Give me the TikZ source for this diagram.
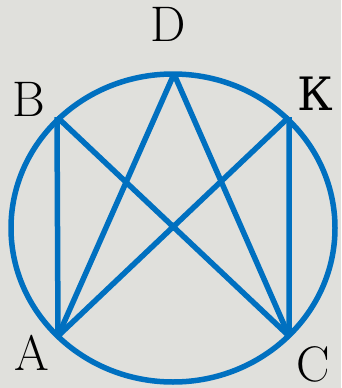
\documentclass[tikz,border=0pt]{standalone}
\usepackage{fontspec}
\newfontfamily\cyrfont{DejaVu Serif}
\usepackage{tikz}
\usetikzlibrary{positioning, calc}
\usepackage{xcolor}
\definecolor{figblue}{HTML}{0070C0}
\definecolor{paper}{HTML}{E0E0DC}

\tikzset{
    edge/.style={draw=figblue, line width=5.5pt, line join=round},
    vlabel/.style={inner sep=0pt, anchor=center, font=\fontsize{50}{50}\selectfont}
}

\begin{document}
\begin{tikzpicture}[x=1pt, y=-1pt]
                \fill[paper] (0,0) rectangle (341,388);
                \useasboundingbox (0,0) rectangle (341,388);
                % points on the circle
                \coordinate (D) at (174,74);
                \coordinate (B) at (57,117);
                \coordinate (K) at (289,117);
                \coordinate (A) at (58,336);
                \coordinate (C) at (289,336);
                % chords
                \draw[edge] (B) -- (A) (K) -- (C);
                \draw[edge] (B) -- (C) (K) -- (A);
                \draw[edge] (D) -- (A) (D) -- (C);
                \draw[edge] (173,228) ellipse [x radius=162, y radius=154];
                % letters
                \node[vlabel] (lD) at (168,24) {D};
                \node[vlabel] (lB) at (29,99) {B};
                \node[vlabel] (lK) at (315,94) {\cyrfont\fontsize{46}{46}\selectfont К};
                \node[vlabel] (lA) at (32,353) {A};
                \node[vlabel] (lC) at (313,364) {C};
            \end{tikzpicture}
\end{document}
